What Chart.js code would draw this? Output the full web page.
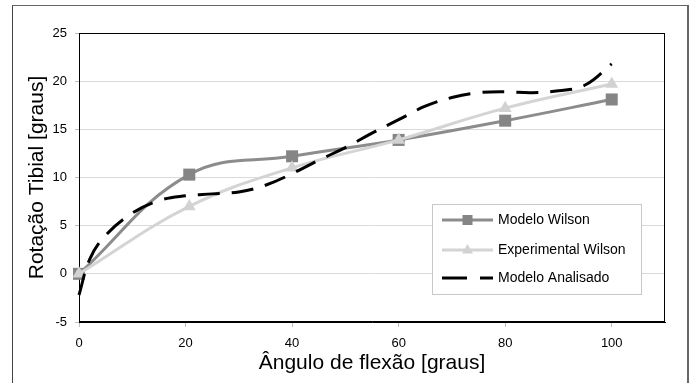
<!DOCTYPE html>
<html>
<head>
<meta charset="utf-8">
<script src="https://cdn.jsdelivr.net/npm/chart.js@4/dist/chart.umd.min.js"></script>
<style>
  html, body { margin: 0; padding: 0; background: #fff; }
  #wrap { position: relative; width: 691px; height: 383px; overflow: hidden; }
  #frame { position: absolute; left: 12px; top: 5px; width: 674px; height: 400px;
           border-left: 1px solid #444; border-top: 1px solid #666; border-right: 2px solid #666; }
  #chart { position: absolute; left: 0; top: 0; }
</style>
</head>
<body>
<div id="wrap">
  <div id="frame"></div>
  <canvas id="chart" width="691" height="383"></canvas>
</div>
<script>
// values
const xTicks = [0, 20, 40, 60, 80, 100];
const yTicks = [-5, 0, 5, 10, 15, 20, 25];

const wilsonX = [0, 20.7, 40, 60, 80, 100];
const wilsonY = [0, 10.3, 12.2, 13.9, 15.9, 18.1];

const expX = [0, 20.7, 40, 60, 80, 100];
const expY = [0, 7.0, 11.0, 13.9, 17.2, 19.7];

const analisadoX = [0, 2, 5, 10, 15, 20, 25, 30, 35, 40, 45, 50, 55, 60, 65, 70, 75, 80, 85, 90, 95, 100];
const analisadoY = [-2.2, 1.5, 4.0, 6.3, 7.6, 8.1, 8.3, 8.5, 9.2, 10.4, 11.8, 13.1, 14.6, 16.0, 17.4, 18.3, 18.8, 18.9, 18.8, 19.0, 19.6, 21.8];

const labels = ['Modelo Wilson', 'Experimental Wilson', 'Modelo Analisado'];

const FONT = '"Liberation Sans", Arial, sans-serif';

function toPoints(xs, ys) {
    return xs.map((x, i) => ({ x: x, y: ys[i] }));
}

// black frame round the plot area
const areaBorder = {
    id: 'areaBorder',
    beforeDatasetsDraw(chart) {
        const a = chart.chartArea;
        const ctx = chart.ctx;
        ctx.save();
        ctx.strokeStyle = '#000';
        ctx.lineWidth = 1;
        ctx.strokeRect(Math.round(a.left) + 0.5, Math.round(a.top) + 0.5,
                       Math.round(a.right - a.left) - 1, Math.round(a.bottom - a.top) - 1);
        ctx.restore();
    }
};

// legend box drawn inside the plot, like the Excel original
const boxLegend = {
    id: 'boxLegend',
    afterDraw(chart) {
        const ctx = chart.ctx;
        const bx = 432, by = 204, bw = 209, bh = 90;
        ctx.save();
        ctx.fillStyle = '#fff';
        ctx.fillRect(bx, by, bw, bh);
        ctx.strokeStyle = '#c8c8c8';
        ctx.lineWidth = 1;
        ctx.strokeRect(bx + 0.5, by + 0.5, bw, bh);

        const rows = [220, 250, 278];
        const x1 = 442, x2 = 493, mx = 467.5;
        chart.data.datasets.forEach((ds, i) => {
            const y = rows[i];
            ctx.strokeStyle = ds.borderColor;
            ctx.lineWidth = ds.borderWidth;
            ctx.setLineDash(ds.borderDash ? [25, 13] : []);
            ctx.beginPath();
            ctx.moveTo(x1, y);
            ctx.lineTo(x2, y);
            ctx.stroke();
            ctx.setLineDash([]);
            ctx.fillStyle = ds.pointBackgroundColor;
            if (ds.pointStyle === 'rect') {
                ctx.fillRect(mx - 5, y - 5, 10, 10);
            } else if (ds.pointStyle === 'triangle') {
                ctx.beginPath();
                ctx.moveTo(mx, y - 6);
                ctx.lineTo(mx + 5.5, y + 3.5);
                ctx.lineTo(mx - 5.5, y + 3.5);
                ctx.closePath();
                ctx.fill();
            }
            ctx.fillStyle = '#000';
            ctx.font = '14px ' + FONT;
            ctx.textBaseline = 'middle';
            ctx.textAlign = 'left';
            ctx.fillText(labels[i], 498, y);
        });
        ctx.restore();
    }
};

const ctx = document.getElementById('chart').getContext('2d');
const chart = new Chart(ctx, {
    type: 'scatter',
    data: {
        datasets: [
            {
                label: labels[0],
                data: toPoints(wilsonX, wilsonY),
                showLine: true,
                tension: 0.4,
                clip: 12,
                borderColor: '#8c8c8c',
                borderWidth: 3,
                pointStyle: 'rect',
                pointRadius: 8.5,
                pointBackgroundColor: '#858585',
                pointBorderColor: '#858585',
                pointBorderWidth: 0,
                order: 2
            },
            {
                label: labels[1],
                data: toPoints(expX, expY),
                showLine: true,
                tension: 0.4,
                clip: 12,
                borderColor: '#d4d4d4',
                borderWidth: 3,
                pointStyle: 'triangle',
                pointRadius: 7.5,
                pointBackgroundColor: '#d2d2d2',
                pointBorderColor: '#d2d2d2',
                pointBorderWidth: 0,
                order: 1
            },
            {
                label: labels[2],
                data: toPoints(analisadoX, analisadoY),
                showLine: true,
                tension: 0.4,
                clip: 4,
                borderColor: '#000',
                borderWidth: 3,
                borderDash: [22, 12],
                pointRadius: 0,
                pointBackgroundColor: '#000',
                order: 0
            }
        ]
    },
    options: {
        responsive: false,
        animation: false,
        devicePixelRatio: 1,
        layout: { padding: { top: 33, right: 26, bottom: 0, left: 0 } },
        plugins: {
            legend: { display: false },
            tooltip: { enabled: false }
        },
        scales: {
            x: {
                type: 'linear',
                min: 0,
                max: 110,
                afterBuildTicks: scale => { scale.ticks = xTicks.map(v => ({ value: v })); },
                afterFit: scale => { scale.height = 61; },
                border: { display: true, color: '#000', width: 1 },
                grid: { drawOnChartArea: false, drawTicks: true, tickLength: 5, tickColor: '#bdbdbd' },
                ticks: { color: '#000', padding: 9, maxRotation: 0, font: { family: FONT, size: 13 } },
                title: {
                    display: true,
                    text: 'Ângulo de flexão [graus]',
                    color: '#000',
                    font: { family: FONT, size: 21 },
                    padding: { top: 0, bottom: 7 }
                }
            },
            y: {
                type: 'linear',
                min: -5,
                max: 25,
                afterBuildTicks: scale => { scale.ticks = yTicks.map(v => ({ value: v })); },
                afterFit: scale => { scale.width = 79; },
                border: { display: true, color: '#000', width: 1 },
                grid: { color: '#dadada', lineWidth: 1, drawTicks: true, tickLength: 4, tickColor: '#bdbdbd' },
                ticks: { color: '#000', padding: 8, font: { family: FONT, size: 13 } },
                title: {
                    display: true,
                    text: 'Rotação Tibial [graus]',
                    color: '#000',
                    font: { family: FONT, size: 21 },
                    padding: { top: 25, bottom: 0 }
                }
            }
        }
    },
    plugins: [areaBorder, boxLegend]
});
</script>
</body>
</html>
